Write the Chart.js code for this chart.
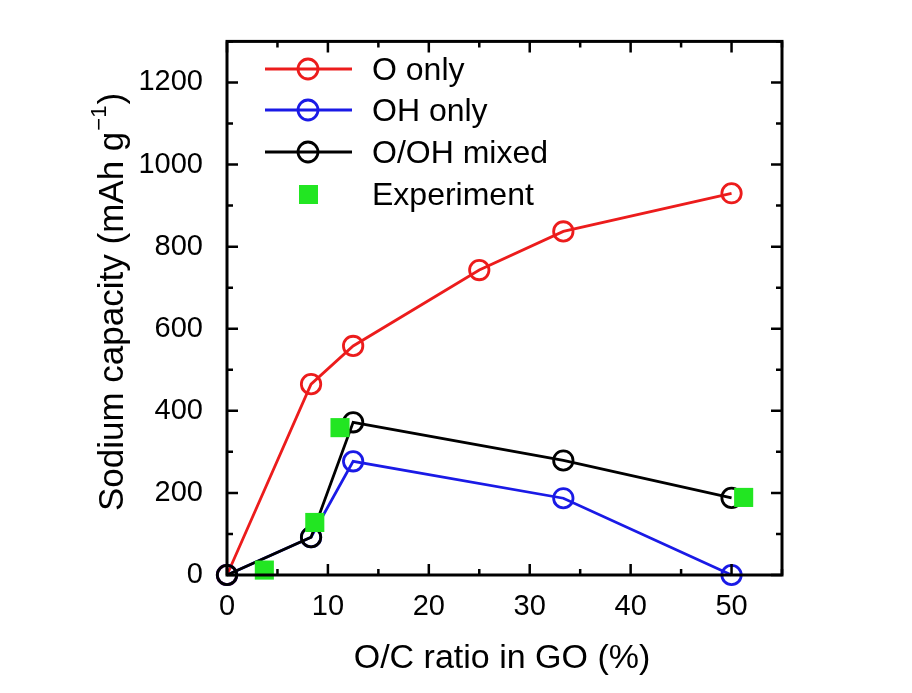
<!DOCTYPE html>
<html><head><meta charset="utf-8">
<script src="https://cdn.jsdelivr.net/npm/chart.js@4"></script>
<style>html,body{margin:0;padding:0;background:#fff}#wrap{width:912px;height:693px}</style>
</head><body><div id="wrap"><canvas id="c" width="912" height="693"></canvas></div>
<script>
const seriesNames = ["O only", "OH only", "O/OH mixed", "Experiment"];
const oOnlyX = [0, 8.33, 12.5, 25, 33.33, 50];
const oOnlyY = [0, 465, 558, 743, 837, 930];
const ohOnlyX = [0, 8.33, 12.5, 33.33, 50];
const ohOnlyY = [0, 92, 277, 187, 0];
const mixedX = [0, 8.33, 12.5, 33.33, 50];
const mixedY = [0, 92, 372, 279, 188];
const expX = [3.7, 8.7, 11.2, 51.2];
const expY = [12, 128, 359, 189];
const xTicks = [0, 10, 20, 30, 40, 50];
const yTicks = [0, 200, 400, 600, 800, 1000, 1200];
const xTitle = "O/C ratio in GO (%)";
const yTitleMain = "Sodium capacity (mAh g";
const yTitleSup = "\u22121";
const yTitleEnd = ")";

const pts = (xs, ys) => xs.map((x, i) => ({x: x, y: ys[i]}));
const FONT = "'Liberation Sans', Arial, sans-serif";
const RED = '#ec1c1c', BLUE = '#1a1ae6', BLACK = '#000000', GREEN = '#22e622';

const lineDs = (label, data, color, order) => ({
  label, data, borderColor: color, backgroundColor: 'rgba(0,0,0,0)',
  borderWidth: 2.8, pointRadius: 9.7, pointBorderWidth: 2.8, pointStyle: 'circle',
  pointBorderColor: color, pointBackgroundColor: 'rgba(0,0,0,0)', showLine: true,
  tension: 0, order, clip: false
});

const decor = {
  id: 'decor',
  afterDraw(chart) {
    const ctx = chart.ctx, a = chart.chartArea, xs = chart.scales.x, ys = chart.scales.y;
    ctx.save();
    ctx.strokeStyle = '#000'; ctx.lineWidth = 3;
    ctx.strokeRect(a.left, a.top, a.right - a.left, a.bottom - a.top);
    ctx.lineWidth = 2.5;
    for (let v = 0; v <= 55; v += 5) {
      const p = xs.getPixelForValue(v);
      const L = (v % 10 === 0) ? 11 : 6;
      ctx.beginPath();
      ctx.moveTo(p, a.bottom); ctx.lineTo(p, a.bottom - L);
      ctx.moveTo(p, a.top); ctx.lineTo(p, a.top + L);
      ctx.stroke();
    }
    for (let v = 0; v <= 1300; v += 100) {
      const p = ys.getPixelForValue(v);
      const L = (v % 200 === 0) ? 11 : 6;
      ctx.beginPath();
      ctx.moveTo(a.left, p); ctx.lineTo(a.left + L, p);
      ctx.moveTo(a.right, p); ctx.lineTo(a.right - L, p);
      ctx.stroke();
    }
    ctx.fillStyle = '#000';
    ctx.font = '34px ' + FONT;
    ctx.textAlign = 'center'; ctx.textBaseline = 'alphabetic';
    ctx.fillText(xTitle, 502, 668);
    ctx.save();
    ctx.translate(123, 302);
    ctx.rotate(-Math.PI / 2);
    ctx.textAlign = 'left'; ctx.textBaseline = 'alphabetic';
    const big = '35px ' + FONT, small = '22px ' + FONT;
    ctx.font = big;
    const w1 = ctx.measureText(yTitleMain).width;
    const w3 = ctx.measureText(yTitleEnd).width;
    ctx.font = small;
    const w2 = ctx.measureText(yTitleSup).width;
    const x0 = -(w1 + w2 + w3 + 2) / 2;
    ctx.font = big;
    ctx.fillText(yTitleMain, x0, 0);
    ctx.fillText(yTitleEnd, x0 + w1 + w2 + 2, 0);
    ctx.font = small;
    ctx.fillText(yTitleSup, x0 + w1 + 1, -17);
    ctx.restore();
    const rows = [
      {name: seriesNames[0], color: RED, type: 'line'},
      {name: seriesNames[1], color: BLUE, type: 'line'},
      {name: seriesNames[2], color: BLACK, type: 'line'},
      {name: seriesNames[3], color: GREEN, type: 'square'}
    ];
    const ry = [69, 110, 152, 194];
    ctx.font = '32px ' + FONT;
    ctx.textAlign = 'left'; ctx.textBaseline = 'middle';
    rows.forEach((r, i) => {
      const y = ry[i];
      if (r.type === 'line') {
        ctx.strokeStyle = r.color; ctx.lineWidth = 2.8;
        ctx.beginPath(); ctx.moveTo(265, y); ctx.lineTo(352, y); ctx.stroke();
        ctx.beginPath(); ctx.arc(308, y, 10, 0, Math.PI * 2); ctx.stroke();
      } else {
        ctx.fillStyle = r.color;
        ctx.fillRect(299, y - 9, 19, 19);
      }
      ctx.fillStyle = '#000';
      ctx.fillText(r.name, 372, y + 2);
    });
    ctx.restore();
  }
};

new Chart(document.getElementById('c'), {
  type: 'scatter',
  data: {
    datasets: [
      lineDs(seriesNames[0], pts(oOnlyX, oOnlyY), RED, 3),
      lineDs(seriesNames[1], pts(ohOnlyX, ohOnlyY), BLUE, 2),
      lineDs(seriesNames[2], pts(mixedX, mixedY), BLACK, 1),
      {label: seriesNames[3], data: pts(expX, expY), pointStyle: 'rect', pointRadius: 13.5,
       backgroundColor: GREEN, borderColor: GREEN, pointBackgroundColor: GREEN, pointBorderColor: GREEN,
       borderWidth: 0, pointBorderWidth: 0, showLine: false, order: 0, clip: false}
    ]
  },
  options: {
    responsive: false, animation: false,
    layout: {padding: {left: 0, top: 40, right: 130, bottom: 0}},
    plugins: {legend: {display: false}, tooltip: {enabled: false}},
    scales: {
      x: {
        type: 'linear', min: 0, max: 55,
        afterFit: s => { s.height = 118; },
        afterBuildTicks: s => { s.ticks = xTicks.map(v => ({value: v})); },
        grid: {display: false, drawTicks: false},
        border: {display: false},
        ticks: {color: '#000', font: {family: FONT, size: 29}, padding: 15, maxRotation: 0,
                callback: v => String(v)}
      },
      y: {
        type: 'linear', min: 0, max: 1300,
        afterFit: s => { s.width = 227; },
        afterBuildTicks: s => { s.ticks = yTicks.map(v => ({value: v})); },
        grid: {display: false, drawTicks: false},
        border: {display: false},
        ticks: {color: '#000', font: {family: FONT, size: 29}, padding: 24,
                callback: v => String(v)}
      }
    }
  },
  plugins: [decor]
});
</script></body></html>
